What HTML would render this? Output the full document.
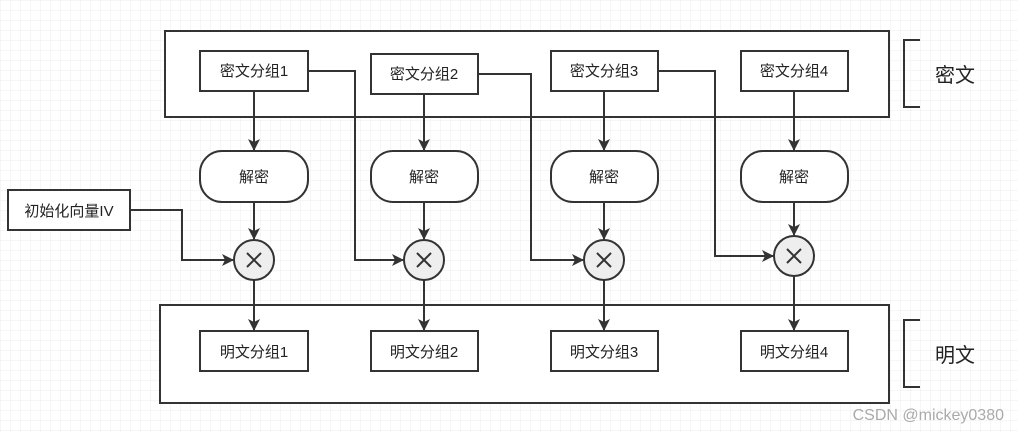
<!DOCTYPE html>
<html><head><meta charset="utf-8">
<style>
html,body{margin:0;padding:0;background:#fff;}
svg{display:block;}
text{font-family:"Liberation Sans","Noto Sans CJK SC",sans-serif;fill:#222;}
</style></head><body>
<svg width="1018" height="432" viewBox="0 0 1018 432" xmlns="http://www.w3.org/2000/svg">
<defs>
<pattern id="g" width="10" height="10" patternUnits="userSpaceOnUse">
<path d="M10 0H0V10" fill="none" stroke="#ececec" stroke-width="1"/>
</pattern>
<marker id="a" markerWidth="12" markerHeight="12" refX="11" refY="6" orient="auto" markerUnits="userSpaceOnUse">
<path d="M0 0L12 6L0 12L3 6Z" fill="#333"/>
</marker>
</defs>
<rect width="1018" height="432" fill="url(#g)"/>
<g fill="#fff" stroke="#333" stroke-width="2">
<rect x="165" y="31" width="724" height="86"/>
<rect x="160" y="305" width="729" height="98"/>
</g>
<g fill="none" stroke="#333" stroke-width="2">
<path d="M920 40H904V107H920"/>
<path d="M920 320H904V387H920"/>
</g>
<text x="935" y="82" font-size="20">密文</text>
<text x="935" y="362" font-size="20">明文</text>

<g fill="none" stroke="#333" stroke-width="2" marker-end="url(#a)">
<path d="M254 91V150"/><path d="M424 94V150"/><path d="M604 91V150"/><path d="M794 91V150"/>
<path d="M254 202V239"/><path d="M424 202V239"/><path d="M604 202V239"/><path d="M794 202V235"/>
<path d="M254 280V330"/><path d="M424 280V330"/><path d="M604 280V330"/><path d="M794 276V330"/>
<path d="M130 210H182V260H233"/>
<path d="M308 71H355V260H403"/>
<path d="M478 74H531V260H583"/>
<path d="M658 71H715V256H773"/>
</g>

<g fill="#fff" stroke="#333" stroke-width="2">
<rect x="200" y="51" width="108" height="40"/>
<rect x="371" y="54" width="107" height="40"/>
<rect x="551" y="51" width="107" height="40"/>
<rect x="741" y="51" width="107" height="40"/>
<rect x="200" y="151" width="108" height="51" rx="22"/>
<rect x="371" y="151" width="107" height="51" rx="22"/>
<rect x="551" y="151" width="107" height="51" rx="22"/>
<rect x="741" y="151" width="107" height="51" rx="22"/>
<rect x="8" y="190" width="122" height="40"/>
<rect x="200" y="331" width="108" height="40"/>
<rect x="371" y="331" width="107" height="40"/>
<rect x="551" y="331" width="107" height="40"/>
<rect x="741" y="331" width="107" height="40"/>
</g>
<g fill="#eee" stroke="#333" stroke-width="2">
<circle cx="254" cy="260" r="20"/><circle cx="424" cy="260" r="20"/>
<circle cx="604" cy="260" r="20"/><circle cx="794" cy="256" r="20"/>
</g>
<g stroke="#333" stroke-width="2">
<path d="M247 253L261 267M261 253L247 267"/>
<path d="M417 253L431 267M431 253L417 267"/>
<path d="M597 253L611 267M611 253L597 267"/>
<path d="M787 249L801 263M801 249L787 263"/>
</g>

<g font-size="15" text-anchor="middle">
<text x="254" y="76">密文分组1</text>
<text x="424" y="79">密文分组2</text>
<text x="604" y="76">密文分组3</text>
<text x="794" y="76">密文分组4</text>
<text x="254" y="182">解密</text>
<text x="424" y="182">解密</text>
<text x="604" y="182">解密</text>
<text x="794" y="182">解密</text>
<text x="69" y="216">初始化向量IV</text>
<text x="254" y="357">明文分组1</text>
<text x="424" y="357">明文分组2</text>
<text x="604" y="357">明文分组3</text>
<text x="794" y="357">明文分组4</text>
</g>
<text x="1004" y="420" font-size="16" text-anchor="end" style="fill:#aaa">CSDN @mickey0380</text>
</svg>
</body></html>
